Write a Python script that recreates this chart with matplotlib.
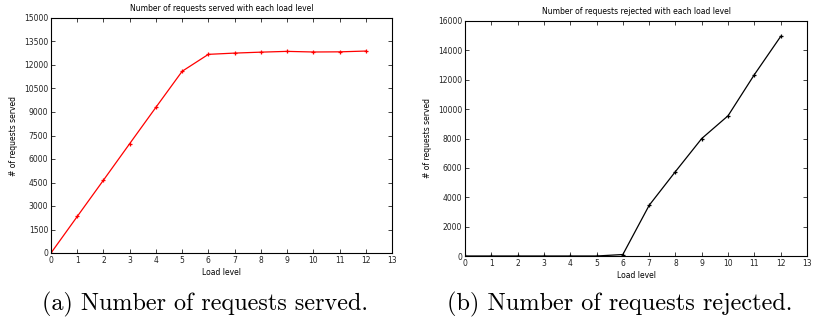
import matplotlib
matplotlib.use("Agg")
import matplotlib.pyplot as plt

load_levels = [0, 1, 2, 3, 4, 5, 6, 7, 8, 9, 10, 11, 12]
served = [0, 2330, 4650, 6980, 9300, 11600, 12680, 12760, 12820, 12870, 12830, 12840, 12890]
rejected = [0, 0, 0, 0, 0, 0, 100, 3450, 5750, 8000, 9550, 12350, 14950]

served_yticks = list(range(0, 15001, 1500))
rejected_yticks = list(range(0, 16001, 2000))
xticks = list(range(0, 14))

fig = plt.figure(figsize=(8.13, 3.21), dpi=100)
W, H = 813, 321

def make_ax(x0, x1, y0, y1):
    return fig.add_axes([x0 / W, 1 - y1 / H, (x1 - x0) / W, (y1 - y0) / H])

ax1 = make_ax(51, 392, 18, 253)
ax2 = make_ax(465, 807, 21, 256)

def style(ax, title, yticks, ymax):
    ax.set_xlim(0, 13)
    ax.set_ylim(0, ymax)
    ax.set_xticks(xticks)
    ax.set_yticks(yticks)
    ax.tick_params(direction="in", top=True, right=True, labelsize=5.5,
                   length=3, width=0.6, pad=2, colors="#222222")
    for s in ax.spines.values():
        s.set_linewidth(0.8)
    ax.set_title(title, fontsize=5.5, pad=5)
    ax.set_xlabel("Load level", fontsize=5.5, labelpad=2)
    ax.set_ylabel("# of requests served", fontsize=5.5, labelpad=4)

ax1.plot(load_levels, served, color="red", marker="+", markersize=3.5,
         markeredgewidth=0.9, linewidth=0.9)
style(ax1, "Number of requests served with each load level", served_yticks, 15000)

ax2.plot(load_levels, rejected, color="black", marker="+", markersize=3.5,
         markeredgewidth=0.9, linewidth=0.9)
style(ax2, "Number of requests rejected with each load level", rejected_yticks, 16000)

# captions: left edge and width in pixels, font size fitted to width
captions = [("(a) Number of requests served.", 42, 326),
            ("(b) Number of requests rejected.", 447, 346)]
renderer = fig.canvas.get_renderer()
for txt, x0, width in captions:
    t = fig.text(x0 / W, 1 - 301 / H, txt, family="cmr10", fontsize=12,
                 ha="left", va="center_baseline")
    w = t.get_window_extent(renderer).width
    t.set_fontsize(12 * width / w)

fig.savefig("out.png", dpi=100)
